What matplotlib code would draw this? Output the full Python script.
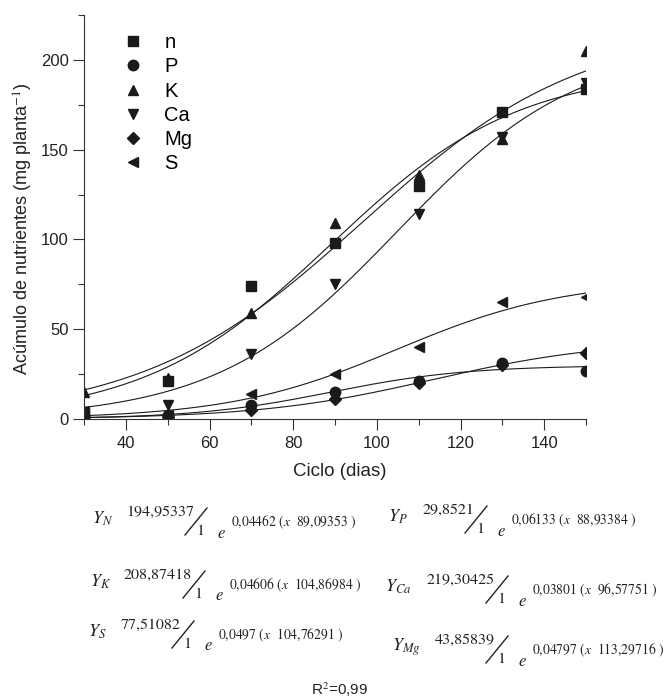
import numpy as np
import matplotlib.pyplot as plt
from matplotlib.ticker import MultipleLocator
from matplotlib.lines import Line2D

plt.rcParams['font.family'] = ['Liberation Sans', 'DejaVu Sans']
plt.rcParams['mathtext.fontset'] = 'stix'

# Days after planting
dias = [30, 50, 70, 90, 110, 130, 150]

# Accumulated nutrients (mg planta-1)
n_obs = [4, 21, 74, 98, 130, 171, 184]
p_obs = [1, 2, 8, 15, 21, 31, 27]
k_obs = [15, 23, 59, 109, 136, 156, 205]
ca_obs = [4, 8, 36, 75, 114, 157, 187]
mg_obs = [1, 1, 5, 11, 20, 30, 37]
s_obs = [2, 2, 14, 25, 40, 65, 68]

labels = ['n', 'P', 'K', 'Ca', 'Mg', 'S']
markers = ['s', 'o', '^', 'v', 'D', '<']

# Logistic fits as printed under the chart: a / (1 + e^(-b (x - c)))
eq_names = ['N', 'P', 'K', 'Ca', 'S', 'Mg']
eq_a = [194.95337, 29.8521, 208.87418, 219.30425, 77.51082, 43.85839]
eq_b = [0.04462, 0.06133, 0.04606, 0.03801, 0.0497, 0.04797]
eq_c = [89.09353, 88.93384, 104.86984, 96.57751, 104.76291, 113.29716]
eq_a_txt = ['194,95337', '29,8521', '208,87418', '219,30425', '77,51082', '43,85839']
eq_b_txt = ['0,04462', '0,06133', '0,04606', '0,03801', '0,0497', '0,04797']
eq_c_txt = ['89,09353', '88,93384', '104,86984', '96,57751', '104,76291', '113,29716']

W, H = 667, 698
fig = plt.figure(figsize=(W / 100, H / 100), dpi=100)
ax = fig.add_axes([84 / W, (H - 419) / H, 502 / W, 404 / H])

col = '#1a1a1a'
xs = np.linspace(30, 150, 300)
for a, b, c in zip(eq_a, eq_b, eq_c):
    ax.plot(xs, a / (1 + np.exp(-b * (xs - c))), color=col, lw=0.8)

series = [n_obs, p_obs, k_obs, ca_obs, mg_obs, s_obs]
handles = []
for vals, m, lab in zip(series, markers, labels):
    ms = 6.5 if m in ('s', 'D') else 7.5
    ax.plot(dias, vals, ls='none', marker=m, ms=ms, color=col, mec=col)
    handles.append(Line2D([], [], ls='none', marker=m, ms=ms, color=col, label=lab))

ax.set_xlim(30, 150)
ax.set_ylim(0, 225)
ax.xaxis.set_major_locator(MultipleLocator(20))
ax.xaxis.set_minor_locator(MultipleLocator(10))
ax.yaxis.set_major_locator(MultipleLocator(50))
ax.yaxis.set_minor_locator(MultipleLocator(25))
ax.set_xticks([40, 60, 80, 100, 120, 140])

for s in ['top', 'right']:
    ax.spines[s].set_visible(False)
for s in ['left', 'bottom']:
    ax.spines[s].set_linewidth(0.8)
    ax.spines[s].set_color('#333333')
ax.tick_params(which='major', direction='out', length=8, width=0.8,
               color='#333333', labelsize=12, labelcolor='#222222')
ax.tick_params(which='minor', direction='out', length=4, width=0.8, color='#333333')
ax.tick_params(axis='x', pad=4)
ax.tick_params(axis='y', pad=3)

ax.set_xlabel('Ciclo (dias)', fontsize=13.5, color='#222222')
ax.xaxis.set_label_coords(0.51, -0.11)
ax.set_ylabel('Acúmulo de nutrientes (mg planta$^{-1}$)', fontsize=13, color='#222222')
ax.yaxis.set_label_coords(-0.097, 0.47)

ax.legend(handles=handles, loc='upper left', bbox_to_anchor=(0.078, 0.955),
          frameon=False, fontsize=14.5, borderpad=0, borderaxespad=0,
          handlelength=1.0, handletextpad=1.05, labelspacing=0.26)


# equations below the chart, positioned in pixel coordinates
def px(x, y):
    return x / W, 1 - y / H


def equation(i, yx, sx, sy):
    fig.text(*px(yx, sy - 16), '$Y_{%s}$' % eq_names[i], fontsize=13,
             ha='left', va='center', color='#222222')
    fig.text(*px(sx + 9, sy - 23), eq_a_txt[i], family='STIXGeneral',
             fontsize=11.5, ha='right', va='center', color='#222222')
    fig.add_artist(Line2D([sx / W, (sx + 22) / W],
                          [1 - sy / H, 1 - (sy - 27) / H],
                          color='#222222', lw=1.0))
    fig.text(*px(sx + 15, sy - 4), '1', family='STIXGeneral', fontsize=11.5,
             ha='center', va='center', color='#222222')
    fig.text(*px(sx + 36, sy - 2), '$e$', fontsize=12,
             ha='center', va='center', color='#222222')
    fig.text(*px(sx + 46, sy - 13),
             eq_b_txt[i] + ' ($x$  ' + eq_c_txt[i] + ' )',
             family='STIXGeneral', fontsize=9.8, ha='left', va='center',
             color='#222222')


equation(0, 92, 185, 535)
equation(1, 388, 465, 533)
equation(2, 90, 183, 598)
equation(3, 385, 486, 603)
equation(4, 88, 172, 648)
equation(5, 392, 486, 663)

fig.text(*px(340, 690), 'R$^{2}$=0,99', fontsize=11, ha='center', va='center',
         color='#222222')

fig.savefig('out.png', dpi=100)
